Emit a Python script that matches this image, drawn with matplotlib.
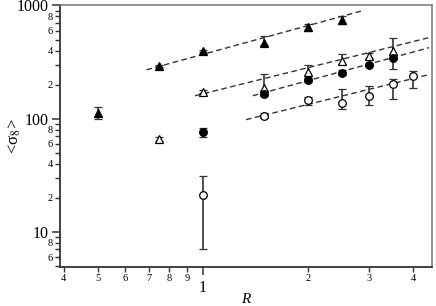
import numpy as np
import matplotlib
matplotlib.use("Agg")
import matplotlib.pyplot as plt
from matplotlib.ticker import FixedLocator, FixedFormatter

plt.rcParams['font.family'] = ['Liberation Serif', 'DejaVu Serif']
plt.rcParams['mathtext.fontset'] = 'stix'

# filled triangles
ftri_r = [0.5, 0.75, 1.0, 1.5, 2.0, 2.5]
ftri_y = [113, 290, 395, 471, 640, 740]
ftri_lo = [13, 6, 8, 25, 45, 55]
ftri_hi = [15, 6, 8, 72, 45, 60]

# open triangles
otri_r = [0.75, 1.0, 1.5, 2.0, 2.5, 3.0, 3.5]
otri_y = [66, 173, 188, 260, 326, 361, 400]
otri_lo = [3, 5, 10, 20, 20, 15, 53]
otri_hi = [3, 5, 62, 40, 50, 23, 121]

# filled circles
fcir_r = [1.0, 1.5, 2.0, 2.5, 3.0, 3.5]
fcir_y = [77, 166, 221, 255, 300, 347]
fcir_lo = [8, 8, 10, 12, 10, 70]
fcir_hi = [6, 10, 10, 15, 10, 20]

# open circles
ocir_r = [1.0, 1.5, 2.0, 2.5, 3.0, 3.5, 4.0]
ocir_y = [21, 106, 147, 138, 160, 204, 240]
ocir_lo = [14, 5, 15, 16, 27, 54, 55]
ocir_hi = [10, 6, 10, 44, 36, 22, 25]

# power-law fits: amplitude at R=1, slope, R range
fit_amp = [370, 166, 121, 79]
fit_slope = [0.844, 0.766, 0.841, 0.760]
fit_rmin = [0.69, 0.95, 1.39, 1.33]
fit_rmax = [2.87, 4.44, 4.44, 4.44]

# tick labels
y_major = [10, 100, 1000]
y_major_lbl = ['10', '100', '1000']
y_minor = [6, 8, 20, 40, 60, 80, 200, 400, 600, 800]
y_minor_lbl = ['6', '8', '2', '4', '6', '8', '2', '4', '6', '8']
y_minor_unlabeled = [5, 7, 9, 30, 50, 70, 90, 300, 500, 700, 900]
x_major = [1]
x_major_lbl = ['1']
x_minor = [0.4, 0.5, 0.6, 0.7, 0.8, 0.9, 2, 3, 4]
x_minor_lbl = ['4', '5', '6', '7', '8', '9', '2', '3', '4']

fig = plt.figure(figsize=(4.36, 3.06), dpi=100)
ax = fig.add_axes([60 / 436, 39 / 306, 372 / 436, 262 / 306])

for a, s, r0, r1 in zip(fit_amp, fit_slope, fit_rmin, fit_rmax):
    rr = np.array([r0, r1])
    ax.plot(rr, a * rr ** s, ls=(0, (4, 2.5)), color='#333333', lw=1.0, zorder=1)

ekw = dict(ls='none', ecolor='#333333', elinewidth=1.2, capsize=3, capthick=1.2,
           ms=5.5, mew=0.9, mec='black', zorder=3)
ax.errorbar(ftri_r, ftri_y, yerr=[ftri_lo, ftri_hi], marker='^', mfc='black', **ekw)
ax.errorbar(otri_r, otri_y, yerr=[otri_lo, otri_hi], marker='^', mfc='white', **ekw)
ax.errorbar(fcir_r, fcir_y, yerr=[fcir_lo, fcir_hi], marker='o', mfc='black', **ekw)
ax.errorbar(ocir_r, ocir_y, yerr=[ocir_lo, ocir_hi], marker='o', mfc='white', **ekw)

ax.set_xscale('log')
ax.set_yscale('log')
ax.set_xlim(0.39, 4.53)
ax.set_ylim(4.9, 1010)

ax.yaxis.set_major_locator(FixedLocator(y_major))
ax.yaxis.set_major_formatter(FixedFormatter(y_major_lbl))
ylocs = sorted(y_minor + y_minor_unlabeled)
ylbls = [y_minor_lbl[y_minor.index(v)] if v in y_minor else '' for v in ylocs]
ax.yaxis.set_minor_locator(FixedLocator(ylocs))
ax.yaxis.set_minor_formatter(FixedFormatter(ylbls))

ax.xaxis.set_major_locator(FixedLocator(x_major))
ax.xaxis.set_major_formatter(FixedFormatter(x_major_lbl))
ax.xaxis.set_minor_locator(FixedLocator(x_minor))
ax.xaxis.set_minor_formatter(FixedFormatter(x_minor_lbl))

ax.tick_params(which='major', direction='out', length=6, width=1.1, color='#333333',
               labelsize=11.5, pad=2)
ax.tick_params(which='minor', direction='out', length=3.5, width=1.0, color='#333333',
               labelsize=7.5, pad=1.5)
ax.tick_params(axis='x', which='major', pad=3)
ax.tick_params(axis='x', which='minor', pad=1.5)

for sp in ['left', 'bottom']:
    ax.spines[sp].set_color('#333333')
    ax.spines[sp].set_linewidth(1.3)
for sp in ['top', 'right']:
    ax.spines[sp].set_color('#777777')
    ax.spines[sp].set_linewidth(1.1)

ax.set_xlabel('R', fontsize=11, style='italic')
ax.xaxis.set_label_coords(0.5, -0.1)
ax.set_ylabel('<σ$_8$>', fontsize=12)
ax.yaxis.set_label_coords(-0.1, 0.5)

fig.savefig('out.png', dpi=100)
